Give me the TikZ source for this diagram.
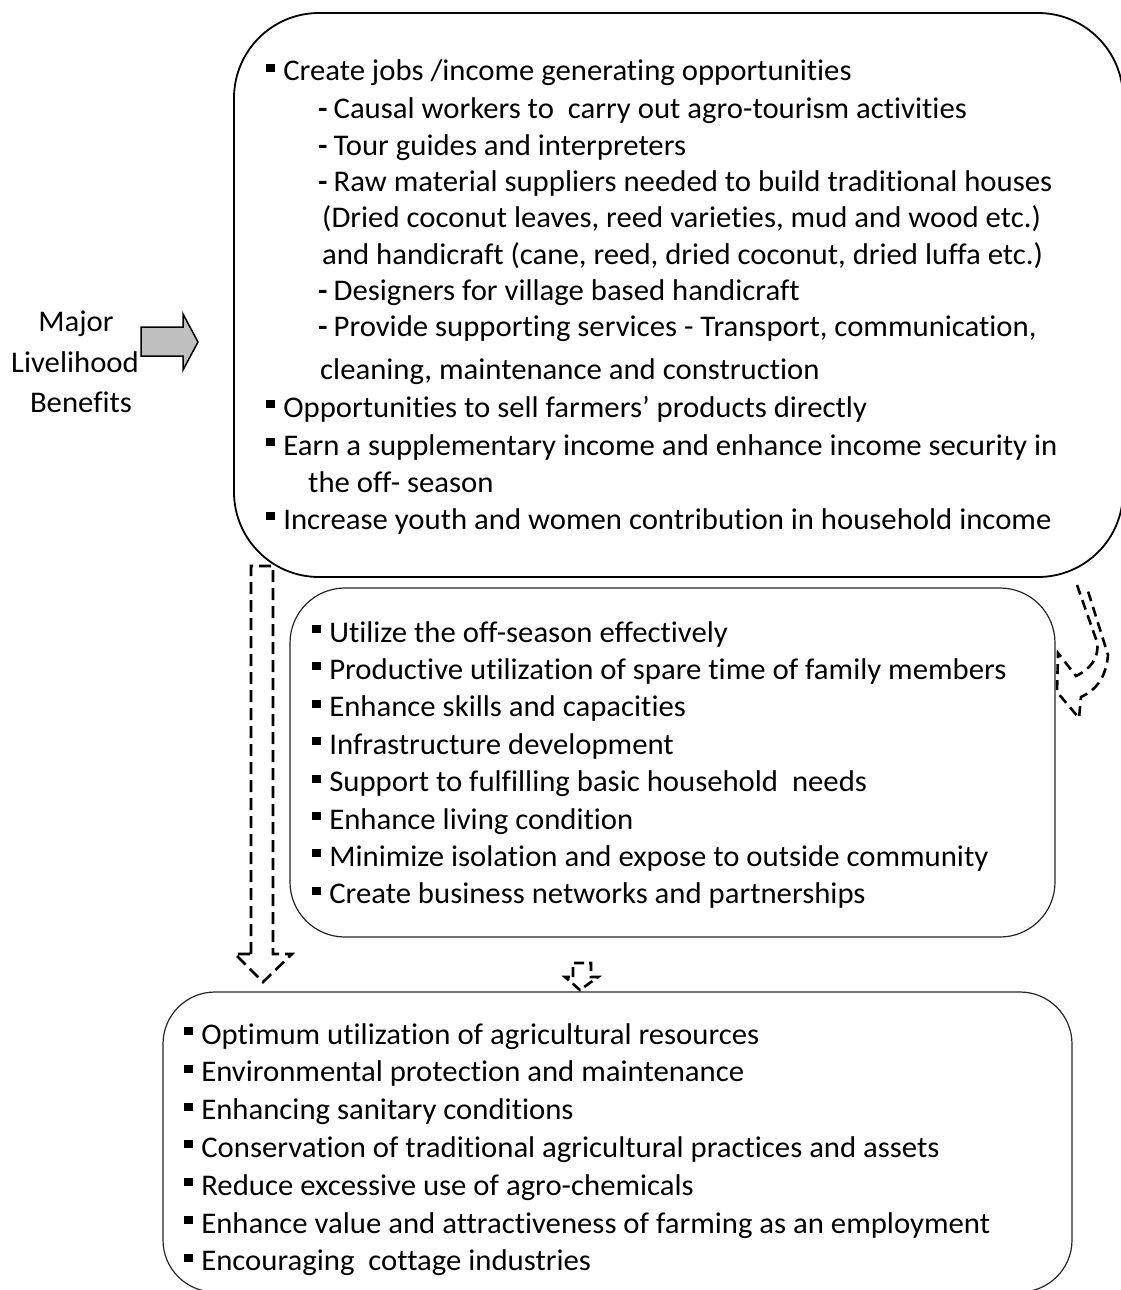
\documentclass[tikz,border=0pt]{standalone}
\usepackage{fontspec}
\setmainfont{Carlito}[Ligatures=CommonOff, FakeStretch=1.025]
\newcommand{\sqb}{\rule[0.3em]{0.3em}{0.27em}\hspace{0.27em}}
\newcommand{\subd}{\textbf{-}\hspace{0.2em}}

\begin{document}
\begin{tikzpicture}[x=1pt, y=-1pt,
  txt/.style={anchor=base west, inner sep=0pt, font=\fontsize{30}{36}\selectfont},
  lab/.style={anchor=base, inner sep=0pt, font=\fontsize{30}{36}\selectfont},
  bx/.style={draw, line width=1.2pt, black!85},
  dsh/.style={draw, line width=2.6pt, dash pattern=on 12pt off 6pt}]
  \useasboundingbox (0,0) rectangle (1121,1290);
  \clip (0,0) rectangle (1121,1290);
  % ---------------------------------------------------------------- label and block arrow
  \node[lab] (maj) at (76,331) {Major};
  \node[lab] (liv) at (75,372) {Livelihood};
  \node[lab] (ben) at (81,412) {Benefits};
  \draw[line width=1.5pt, fill=black!25] (141,327) -- (183,327) -- (183,314) -- (198,342)
        -- (183,370) -- (183,356) -- (141,356) -- cycle;
  % ---------------------------------------------------------------- boxes
  \draw[bx, black, line width=1.8pt, rounded corners=85pt] (234,13) rectangle (1123,577);
  \draw[bx, rounded corners=55pt] (290,588) rectangle (1055,937);
  \draw[bx, rounded corners=52pt] (163,992) rectangle (1072,1292);
  % ---------------------------------------------------------------- top box
  \node[txt] (t1) at (266,81) {\sqb Create jobs /income generating opportunities};
  \node[txt] (t2) at (318,118) {\subd Causal workers to\ \ carry out agro-tourism activities};
  \node[txt] (t3) at (318,155) {\subd Tour guides and interpreters};
  \node[txt] (t4) at (318,191) {\subd Raw material suppliers needed to build traditional houses};
  \node[txt] (t5) at (322,227) {(Dried coconut leaves, reed varieties, mud and wood etc.)};
  \node[txt] (t6) at (322,264) {and handicraft (cane, reed, dried coconut, dried luffa etc.)};
  \node[txt] (t7) at (318,300) {\subd Designers for village based handicraft};
  \node[txt] (t8) at (318,336) {\subd Provide supporting services - Transport, communication,};
  \node[txt] (t9) at (320,379) {cleaning, maintenance and construction};
  \node[txt] (t10) at (266,417) {\sqb Opportunities to sell farmers’ products directly};
  \node[txt] (t11) at (266,455) {\sqb Earn a supplementary income and enhance income security in};
  \node[txt] (t12) at (308,492) {the off- season};
  \node[txt] (t13) at (266,529) {\sqb Increase youth and women contribution in household income};
  % ---------------------------------------------------------------- middle box
  \foreach \t [count=\i] in {Utilize the off-season effectively,
      Productive utilization of spare time of family members,
      Enhance skills and capacities,
      Infrastructure development,
      Support to fulfilling basic household\ \ needs,
      Enhance living condition,
      Minimize isolation and expose to outside community,
      Create business networks and partnerships}
    \node[txt] (m\i) at (312,{642+37.4*(\i-1)}) {\sqb \t};
  % ---------------------------------------------------------------- bottom box
  \foreach \t [count=\i] in {Optimum utilization of agricultural resources,
      Environmental protection and maintenance,
      Enhancing sanitary conditions,
      Conservation of traditional agricultural practices and assets,
      Reduce excessive use of agro-chemicals,
      Enhance value and attractiveness of farming as an employment,
      Encouraging\ \ cottage industries}
    \node[txt] (b\i) at (184,{1044+37.8*(\i-1)}) {\sqb \t};
  % ---------------------------------------------------------------- dashed block arrows
  \draw[dsh] (251,954) -- (251,566) -- (273,566) -- (273,954) -- (292,954) -- (263,982)
        -- (235,954) -- cycle;
  \draw[dsh, dash pattern=on 10pt off 5pt] (573,977) -- (573,963) -- (591,963) -- (591,977)
        -- (598,977) -- (580,990) -- (565,977) -- cycle;
  \draw[dsh, dash pattern=on 10pt off 6pt] (1077,585) -- (1097,642) to[out=-80, in=25] (1076,676)
        -- (1058,653) -- (1057,692) -- (1079,718) -- (1081,697) to[out=25, in=-95] (1108,655)
        -- (1087,588);
\end{tikzpicture}
\end{document}
